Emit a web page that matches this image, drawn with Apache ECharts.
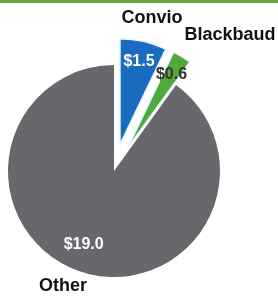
<!DOCTYPE html>
<html><head><meta charset="utf-8">
<script src="https://cdn.jsdelivr.net/npm/echarts@6/dist/echarts.min.js"></script>
<style>html,body{margin:0;padding:0;background:#fff}#c{width:278px;height:298px}</style>
</head><body><div id="c"></div>
<script>
const categories = ['Convio', 'Blackbaud', 'Other'];
const values = [1.5, 0.6, 19.0];
const valueLabels = ['$1.5', '$0.6', '$19.0'];
const exploded = [true, true, false];

const colors = ['#1a6cc0', '#4faa3a', '#67686c'];
const labelColors = ['#ffffff', '#333333', '#ffffff'];
const labelOffsets = [[-1, -1], [-4, 2], [-4, -8]];

const chart = echarts.init(document.getElementById('c'), null, {renderer: 'canvas'});
const center = [114, 171];
const R = 106;
const offs = 27;

const mainData = categories.map((n, i) => ({
  name: n, value: values[i], selected: exploded[i],
  itemStyle: {color: colors[i], borderColor: i < 2 ? '#e8f6ff' : 'transparent', borderWidth: i < 2 ? 1.5 : 0}
}));
const labelData = categories.map((n, i) => ({
  name: n, value: values[i], selected: exploded[i],
  label: {color: labelColors[i], formatter: valueLabels[i], fontSize: 16, offset: labelOffsets[i]}
}));

chart.setOption({
  animation: false,
  graphic: [
    {type: 'rect', left: 0, top: 0, shape: {width: 278, height: 3}, style: {fill: '#66a83c'}},
    {type: 'text', x: 152, y: 18, style: {text: 'Convio', font: 'bold 18px "Liberation Sans", Arial, sans-serif', fill: '#111', align: 'center', verticalAlign: 'middle'}},
    {type: 'text', x: 230, y: 35, style: {text: 'Blackbaud', font: 'bold 18px "Liberation Sans", Arial, sans-serif', fill: '#111', align: 'center', verticalAlign: 'middle'}},
    {type: 'text', x: 63, y: 286, style: {text: 'Other', font: 'bold 18px "Liberation Sans", Arial, sans-serif', fill: '#111', align: 'center', verticalAlign: 'middle'}}
  ],
  series: [
    {
      type: 'pie', center: center, radius: [0, R], startAngle: 90, clockwise: true,
      selectedMode: 'multiple', selectedOffset: offs, silent: true,
      label: {show: false}, labelLine: {show: false},
      emphasis: {disabled: true}, select: {itemStyle: {}},
      data: mainData
    },
    {
      type: 'pie', center: center, radius: [R * 0.56, R], startAngle: 90, clockwise: true,
      selectedMode: 'multiple', selectedOffset: offs, silent: true, z: 5,
      avoidLabelOverlap: false,
      labelLayout: {hideOverlap: false},
      itemStyle: {color: 'transparent'},
      label: {show: true, position: 'inside', fontWeight: 'bold', fontFamily: '"Liberation Sans", Arial, sans-serif'},
      labelLine: {show: false},
      emphasis: {disabled: true},
      data: labelData
    }
  ]
});
</script></body></html>
